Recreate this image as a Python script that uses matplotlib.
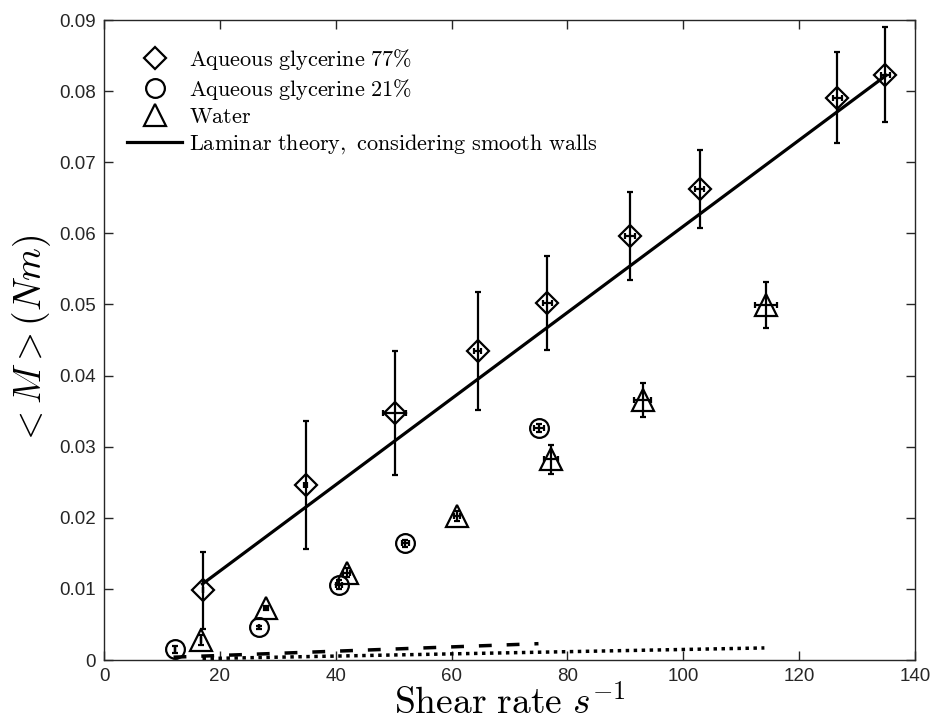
import matplotlib

matplotlib.use("Agg")
import matplotlib.pyplot as plt
from matplotlib.lines import Line2D
from matplotlib.ticker import FixedLocator, FuncFormatter

plt.rcParams["mathtext.fontset"] = "cm"
plt.rcParams["font.family"] = ["Liberation Sans", "DejaVu Sans"]

# --- measured torque, aqueous glycerine 77% ---
g77_rate = [17.0, 34.8, 50.2, 64.5, 76.5, 90.8, 102.8, 126.6, 134.9]
g77_torque = [0.0098, 0.0246, 0.0347, 0.0434, 0.0502, 0.0596, 0.0662, 0.0791, 0.0823]
g77_torque_err = [0.0054, 0.0090, 0.0087, 0.0083, 0.0066, 0.0062, 0.0055, 0.0064, 0.0067]
g77_rate_err = [0.0, 0.2, 2.0, 0.6, 0.8, 0.8, 0.8, 0.8, 0.8]

# --- aqueous glycerine 21% ---
g21_rate = [12.3, 26.8, 40.6, 52.0, 75.1]
g21_torque = [0.0015, 0.0046, 0.0106, 0.0164, 0.0326]
g21_torque_err = [0.0005, 0.0002, 0.0006, 0.0005, 0.0006]
g21_rate_err = [0.0, 0.0, 0.5, 0.6, 0.9]

# --- water ---
water_rate = [16.8, 28.0, 41.9, 60.9, 77.2, 93.0, 114.2]
water_torque = [0.0028, 0.0073, 0.0123, 0.0202, 0.0282, 0.0366, 0.0499]
water_torque_err = [0.0007, 0.0003, 0.0006, 0.0007, 0.0020, 0.0024, 0.0032]
water_rate_err = [0.0, 0.3, 0.6, 0.5, 1.2, 1.5, 1.9]

# --- laminar theory (smooth walls) ---
theory77_rate = [17.0, 135.0]
theory77_torque = [0.0107, 0.0822]
theory21_rate = [12.0, 75.0]
theory21_torque = [0.0004, 0.0023]
theory_w_rate = [17.0, 114.0]
theory_w_torque = [0.0002, 0.0017]

x_ticks = [0, 20, 40, 60, 80, 100, 120, 140]
y_ticks = [0, 0.01, 0.02, 0.03, 0.04, 0.05, 0.06, 0.07, 0.08, 0.09]

labels = [
    r"$\mathrm{Aqueous\ glycerine\ 77\%}$",
    r"$\mathrm{Aqueous\ glycerine\ 21\%}$",
    r"$\mathrm{Water}$",
    r"$\mathrm{Laminar\ theory,\ considering\ smooth\ walls}$",
]

fig = plt.figure(figsize=(9.33, 7.23), dpi=100)
ax = fig.add_axes([0.1115, 0.0871, 0.8692, 0.8852])

mk_kw = dict(color="black", markerfacecolor="none", markeredgecolor="black",
             markeredgewidth=1.6)
err_kw = dict(linestyle="none", ecolor="black", elinewidth=1.6,
              capsize=2, capthick=1.6, **mk_kw)

ax.errorbar(g77_rate, g77_torque, yerr=g77_torque_err, xerr=g77_rate_err,
            marker="D", markersize=11, **err_kw)
ax.errorbar(g21_rate, g21_torque, yerr=g21_torque_err, xerr=g21_rate_err,
            marker="o", markersize=13.5, **err_kw)
ax.errorbar(water_rate, water_torque, yerr=water_torque_err, xerr=water_rate_err,
            marker="^", markersize=16, **err_kw)

ax.plot(theory77_rate, theory77_torque, color="black", lw=2.3)
ax.plot(theory21_rate, theory21_torque, color="black", lw=2.5,
        linestyle=(0, (3.7, 4.3)))
ax.plot(theory_w_rate, theory_w_torque, color="black", lw=2.5,
        linestyle=(0, (1, 1.3)))

ax.set_xlim(0, 140)
ax.set_ylim(0, 0.09)
ax.xaxis.set_major_locator(FixedLocator(x_ticks))
ax.yaxis.set_major_locator(FixedLocator(y_ticks))
ax.yaxis.set_major_formatter(FuncFormatter(lambda v, _: "0" if v == 0 else f"{v:.2f}"))

axis_grey = "#262626"
for side in ax.spines.values():
    side.set_color(axis_grey)
    side.set_linewidth(1.0)
ax.tick_params(direction="in", length=6.5, width=1.0, color=axis_grey,
               labelcolor=axis_grey, labelsize=13.5, top=True, right=True, pad=6)

ax.set_xlabel(r"$\mathrm{Shear\ rate}\ s^{-1}$", fontsize=27, labelpad=0)
ax.set_ylabel(r"$<M>(Nm)$", fontsize=27, labelpad=4)

# legend shows bare markers, no error bars
handles = [
    Line2D([], [], linestyle="none", marker="D", markersize=11, **mk_kw),
    Line2D([], [], linestyle="none", marker="o", markersize=13.5, **mk_kw),
    Line2D([], [], linestyle="none", marker="^", markersize=16, **mk_kw),
    Line2D([], [], color="black", lw=2.3),
]
ax.legend(handles, labels, loc="upper left", bbox_to_anchor=(0.028, 0.958),
          frameon=False, fontsize=16, borderpad=0, borderaxespad=0,
          handlelength=2.5, handletextpad=0.3, labelspacing=0.22, numpoints=1)

fig.savefig("out.png", dpi=100)
